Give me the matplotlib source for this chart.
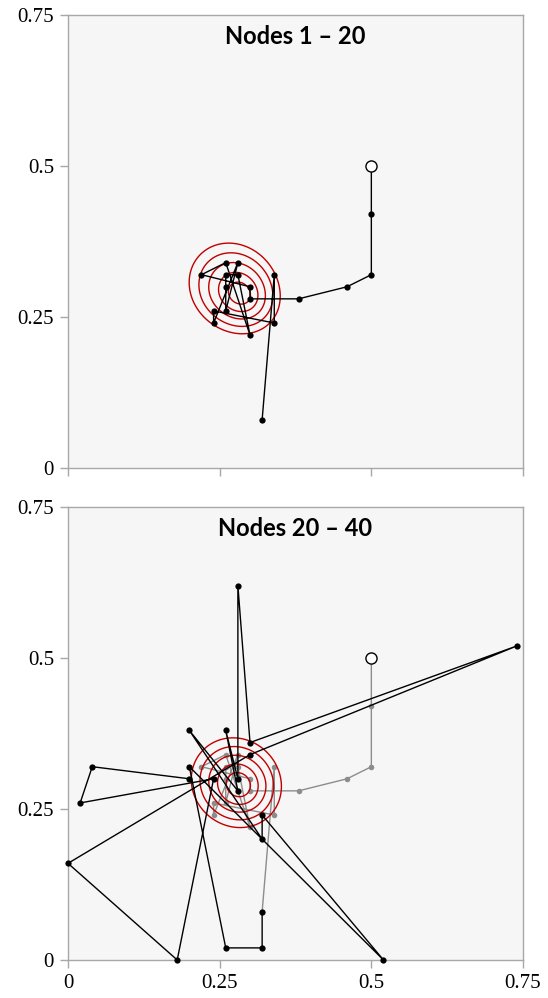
import numpy as np
import matplotlib.pyplot as plt

# visited nodes 1 - 20 (node 1 is the start)
path1_x = [0.50, 0.50, 0.50, 0.46, 0.38, 0.30, 0.30, 0.22, 0.26, 0.30,
           0.28, 0.26, 0.26, 0.26, 0.28, 0.24, 0.24, 0.34, 0.34, 0.32]
path1_y = [0.50, 0.42, 0.32, 0.30, 0.28, 0.28, 0.30, 0.32, 0.34, 0.22,
           0.32, 0.32, 0.30, 0.26, 0.34, 0.24, 0.26, 0.24, 0.32, 0.08]

# visited nodes 20 - 40
path2_x = [0.32, 0.32, 0.26, 0.20, 0.52, 0.32, 0.32, 0.20, 0.28, 0.26, 0.28,
           0.28, 0.30, 0.74, 0.30, 0.00, 0.18, 0.24, 0.02, 0.04, 0.20]
path2_y = [0.08, 0.02, 0.02, 0.32, 0.00, 0.24, 0.20, 0.38, 0.28, 0.38, 0.30,
           0.62, 0.36, 0.52, 0.34, 0.16, 0.00, 0.30, 0.26, 0.32, 0.30]

titles = ["Nodes 1 \u2013 20", "Nodes 20 \u2013 40"]
ticks = [0, 0.25, 0.5, 0.75]
tick_labels = ["0", "0.25", "0.5", "0.75"]

# target density contours: centre, axis ratio, egg skew, radii
dens_top = dict(cx=0.285, cy=0.287, ratio=1.15, skew=0.17,
                levels=[0.0165, 0.0294, 0.0423, 0.0552, 0.068])
dens_bot = dict(cx=0.282, cy=0.289, ratio=1.08, skew=0.08,
                levels=[0.019, 0.032, 0.045, 0.058, 0.071])

BG = "#f6f6f6"
SPINE = "#a8a8a8"
RED = "#c00000"
GREY = "#8c8c8c"


def egg(X, Y, cx, cy, ratio, skew, levels=None):
    """elliptical distance, stretched along NW-SE and blunter to the NW"""
    dx, dy = X - cx, Y - cy
    u = (dx - dy) / np.sqrt(2)   # towards south-east
    v = (dx + dy) / np.sqrt(2)
    rho = np.sqrt((u / ratio) ** 2 + v ** 2)
    cosphi = u / (np.sqrt(u ** 2 + v ** 2) + 1e-12)
    return rho * (1 + skew * cosphi)


def style_axes(ax, xlabels):
    ax.set_facecolor(BG)
    ax.set_xlim(0, 0.75)
    ax.set_ylim(0, 0.75)
    ax.set_xticks(ticks)
    ax.set_yticks(ticks)
    ax.set_yticklabels(tick_labels, fontsize=15, family="Liberation Serif")
    if xlabels:
        ax.set_xticklabels(tick_labels, fontsize=15, family="Liberation Serif")
    else:
        ax.set_xticklabels([])
    for s in ax.spines.values():
        s.set_color(SPINE)
        s.set_linewidth(1.0)
    ax.tick_params(colors=SPINE, labelcolor="black", length=6, width=1.0, pad=4)


def draw_density(ax, d):
    g = np.linspace(0, 0.75, 600)
    X, Y = np.meshgrid(g, g)
    Z = egg(X, Y, **d)
    ax.contour(X, Y, Z, levels=d["levels"], colors=RED, linewidths=1.0, zorder=3)


def draw_path(ax, xs, ys, color, ms, z):
    ax.plot(xs, ys, color=color, lw=1.0, zorder=z, clip_on=False)
    ax.plot(xs, ys, "o", color=color, ms=ms, mew=0, zorder=z + 0.5, clip_on=False)


fig = plt.figure(figsize=(5.48, 9.98), dpi=100)
ax1 = fig.add_axes([0.1241, 0.5311, 0.8303, 0.4539])
ax2 = fig.add_axes([0.1241, 0.0381, 0.8303, 0.4539])

# top: first 20 nodes
style_axes(ax1, False)
draw_density(ax1, dens_top)
draw_path(ax1, path1_x, path1_y, "black", 4.5, 4)
ax1.plot(path1_x[0], path1_y[0], "o", ms=8, mfc="white", mec="black", mew=1.0, zorder=6)

# bottom: nodes 20 - 40 over the earlier path in grey
style_axes(ax2, True)
draw_path(ax2, path1_x, path1_y, GREY, 4.0, 2)
draw_density(ax2, dens_bot)
draw_path(ax2, path2_x, path2_y, "black", 4.5, 4)
ax2.plot(path1_x[0], path1_y[0], "o", ms=8, mfc="white", mec="black", mew=1.0, zorder=6)

for ax, t in zip([ax1, ax2], titles):
    ax.text(0.5, 0.953, t, transform=ax.transAxes, ha="center", va="center",
            fontsize=17, fontweight="bold", family="Lato")

fig.savefig("out.png", dpi=100)
